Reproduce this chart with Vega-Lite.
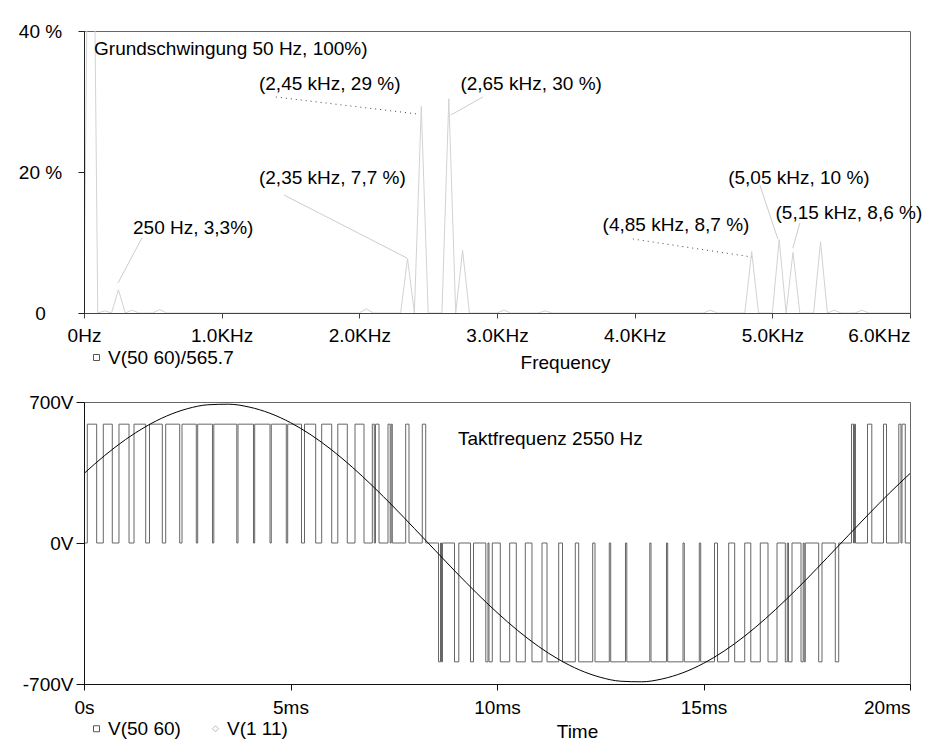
{
  "$schema": "https://vega.github.io/schema/vega-lite/v6.json",
  "background": "white",
  "padding": {"left": 17, "top": 21, "right": 10, "bottom": 10},
  "spacing": 89,
  "bounds": "flush",
  "resolve": {"scale": {"color": "independent", "shape": "independent"}, "legend": {"color": "independent", "shape": "independent"}},
  "config": {
    "font": "Liberation Sans",
    "view": {"stroke": "#666666", "strokeWidth": 1},
    "axis": {"grid": false, "labelFont": "Liberation Sans", "labelFontSize": 19, "labelColor": "black", "titleFont": "Liberation Sans", "titleFontSize": 19, "titleFontWeight": "normal", "titleColor": "black", "domainColor": "#333333", "tickColor": "#333333", "labelOverlap": false},
    "legend": {"labelFont": "Liberation Sans", "labelFontSize": 19, "labelColor": "black"},
    "text": {"font": "Liberation Sans", "fontSize": 19, "color": "black"}
  },
  "datasets": {
    "spec": [
      {"f":0,"p":0},{"f":50,"p":100},{"f":100,"p":0},{"f":150,"p":0.3},{"f":200,"p":0},{"f":250,"p":3.3},{"f":300,"p":0},{"f":350,"p":0.4},{"f":400,"p":0},{"f":450,"p":0},
      {"f":500,"p":0},{"f":550,"p":0.5},{"f":600,"p":0},{"f":650,"p":0},{"f":700,"p":0},{"f":750,"p":0},{"f":800,"p":0},{"f":850,"p":0},{"f":900,"p":0},{"f":950,"p":0},
      {"f":1000,"p":0},{"f":1050,"p":0},{"f":1100,"p":0},{"f":1150,"p":0},{"f":1200,"p":0},{"f":1250,"p":0},{"f":1300,"p":0},{"f":1350,"p":0},{"f":1400,"p":0},{"f":1450,"p":0},
      {"f":1500,"p":0},{"f":1550,"p":0},{"f":1600,"p":0},{"f":1650,"p":0},{"f":1700,"p":0},{"f":1750,"p":0},{"f":1800,"p":0},{"f":1850,"p":0},{"f":1900,"p":0},{"f":1950,"p":0},
      {"f":2000,"p":0},{"f":2050,"p":0.6},{"f":2100,"p":0},{"f":2150,"p":0},{"f":2200,"p":0},{"f":2250,"p":0},{"f":2300,"p":0},{"f":2350,"p":7.7},{"f":2400,"p":0},{"f":2450,"p":29.3},
      {"f":2500,"p":0},{"f":2550,"p":0},{"f":2600,"p":0},{"f":2650,"p":30.4},{"f":2700,"p":0},{"f":2750,"p":8.9},{"f":2800,"p":0},{"f":2850,"p":0},{"f":2900,"p":0},{"f":2950,"p":0},
      {"f":3000,"p":0},{"f":3050,"p":0.4},{"f":3100,"p":0},{"f":3150,"p":0},{"f":3200,"p":0},{"f":3250,"p":0},{"f":3300,"p":0},{"f":3350,"p":0.3},{"f":3400,"p":0},{"f":3450,"p":0},
      {"f":3500,"p":0},{"f":3550,"p":0},{"f":3600,"p":0},{"f":3650,"p":0},{"f":3700,"p":0},{"f":3750,"p":0},{"f":3800,"p":0},{"f":3850,"p":0},{"f":3900,"p":0},{"f":3950,"p":0},
      {"f":4000,"p":0},{"f":4050,"p":0},{"f":4100,"p":0},{"f":4150,"p":0},{"f":4200,"p":0},{"f":4250,"p":0},{"f":4300,"p":0},{"f":4350,"p":0},{"f":4400,"p":0},{"f":4450,"p":0},
      {"f":4500,"p":0},{"f":4550,"p":0.4},{"f":4600,"p":0},{"f":4650,"p":0},{"f":4700,"p":0},{"f":4750,"p":0},{"f":4800,"p":0},{"f":4850,"p":8.7},{"f":4900,"p":0},{"f":4950,"p":0},
      {"f":5000,"p":0},{"f":5050,"p":10.4},{"f":5100,"p":0},{"f":5150,"p":8.6},{"f":5200,"p":0},{"f":5250,"p":0},{"f":5300,"p":0},{"f":5350,"p":10.1},{"f":5400,"p":0},{"f":5450,"p":0.4},
      {"f":5500,"p":0},{"f":5550,"p":0},{"f":5600,"p":0},{"f":5650,"p":0.4},{"f":5700,"p":0},{"f":5750,"p":0},{"f":5800,"p":0},{"f":5850,"p":0},{"f":5900,"p":0},{"f":5950,"p":0},
      {"f":6000,"p":0}
    ],
    "leadSolid": [
      {"f1":421,"p1":10.64,"f2":247,"p2":4.26},
      {"f1":1452,"p1":16.74,"f2":2346,"p2":7.8},
      {"f1":2665,"p1":28.09,"f2":2898,"p2":30.64},
      {"f1":4909,"p1":18.16,"f2":5040,"p2":10.5},
      {"f1":5200,"p1":12.77,"f2":5149,"p2":9.2}
    ],
    "leadDotted": [
      {"f1":1394,"p1":30.64,"f2":2433,"p2":28.2},
      {"f1":3987,"p1":10.5,"f2":4851,"p2":7.94}
    ],
    "ann": [
      {"f":73,"p":36.6,"label":"Grundschwingung 50 Hz, 100%)"},
      {"f":1271,"p":31.7,"label":"(2,45 kHz, 29 %)"},
      {"f":2734,"p":31.7,"label":"(2,65 kHz, 30 %)"},
      {"f":1271,"p":18.3,"label":"(2,35 kHz, 7,7 %)"},
      {"f":356,"p":11.16,"label":"250 Hz, 3,3%)"},
      {"f":3767,"p":11.63,"label":"(4,85 kHz, 8,7 %)"},
      {"f":4679,"p":18.25,"label":"(5,05 kHz, 10 %)"},
      {"f":5023,"p":13.29,"label":"(5,15 kHz, 8,6 %)"}
    ],
    "pwm": [
      {"t":0,"v":0},{"t":0.080,"v":590},{"t":0.307,"v":0},{"t":0.467,"v":590},{"t":0.685,"v":0},{"t":0.847,"v":590},{"t":1.090,"v":0},{"t":1.211,"v":590},
      {"t":1.494,"v":0},{"t":1.586,"v":590},{"t":1.896,"v":0},{"t":1.978,"v":590},{"t":2.317,"v":0},{"t":2.373,"v":590},{"t":2.719,"v":0},{"t":2.753,"v":590},
      {"t":3.111,"v":0},{"t":3.143,"v":590},{"t":3.700,"v":0},{"t":3.729,"v":590},{"t":4.104,"v":0},{"t":4.133,"v":590},{"t":4.504,"v":0},{"t":4.535,"v":590},
      {"t":4.898,"v":0},{"t":4.932,"v":590},{"t":5.266,"v":0},{"t":5.339,"v":590},{"t":5.610,"v":0},{"t":5.755,"v":590},{"t":5.998,"v":0},{"t":6.145,"v":590},
      {"t":6.375,"v":0},{"t":6.562,"v":590},{"t":6.780,"v":0},{"t":6.981,"v":590},{"t":7.029,"v":0},{"t":7.058,"v":590},{"t":7.143,"v":0},{"t":7.361,"v":590},
      {"t":7.414,"v":0},{"t":7.438,"v":590},{"t":7.465,"v":0},{"t":7.789,"v":590},{"t":7.869,"v":0},{"t":8.191,"v":590},{"t":8.274,"v":0},
      {"t":8.584,"v":-590},{"t":8.632,"v":0},{"t":8.656,"v":-590},{"t":8.680,"v":0},{"t":8.971,"v":-590},{"t":9.075,"v":0},{"t":9.358,"v":-590},{"t":9.431,"v":0},
      {"t":9.729,"v":-590},{"t":9.782,"v":0},{"t":9.806,"v":-590},{"t":9.886,"v":0},
      {"t":10.080,"v":-590},{"t":10.307,"v":0},{"t":10.467,"v":-590},{"t":10.685,"v":0},{"t":10.847,"v":-590},{"t":11.090,"v":0},{"t":11.211,"v":-590},
      {"t":11.494,"v":0},{"t":11.586,"v":-590},{"t":11.896,"v":0},{"t":11.978,"v":-590},{"t":12.317,"v":0},{"t":12.373,"v":-590},{"t":12.719,"v":0},{"t":12.753,"v":-590},
      {"t":13.111,"v":0},{"t":13.143,"v":-590},{"t":13.700,"v":0},{"t":13.729,"v":-590},{"t":14.104,"v":0},{"t":14.133,"v":-590},{"t":14.504,"v":0},{"t":14.535,"v":-590},
      {"t":14.898,"v":0},{"t":14.932,"v":-590},{"t":15.266,"v":0},{"t":15.339,"v":-590},{"t":15.610,"v":0},{"t":15.755,"v":-590},{"t":15.998,"v":0},{"t":16.145,"v":-590},
      {"t":16.375,"v":0},{"t":16.562,"v":-590},{"t":16.780,"v":0},{"t":16.981,"v":-590},{"t":17.029,"v":0},{"t":17.058,"v":-590},{"t":17.143,"v":0},{"t":17.361,"v":-590},
      {"t":17.414,"v":0},{"t":17.438,"v":-590},{"t":17.465,"v":0},{"t":17.789,"v":-590},{"t":17.869,"v":0},{"t":18.191,"v":-590},{"t":18.274,"v":0},
      {"t":18.584,"v":590},{"t":18.632,"v":0},{"t":18.656,"v":590},{"t":18.680,"v":0},{"t":18.971,"v":590},{"t":19.075,"v":0},{"t":19.358,"v":590},{"t":19.431,"v":0},
      {"t":19.729,"v":590},{"t":19.782,"v":0},{"t":19.806,"v":590},{"t":19.886,"v":0},{"t":20,"v":0}
    ],
    "sine": [
      {"t":0,"v":345},{"t":0.5,"v":434.2},{"t":1,"v":512.8},{"t":1.5,"v":578.7},{"t":2,"v":630.3},{"t":2.5,"v":666.5},{"t":3,"v":686.2},{"t":3.5,"v":689.1},
      {"t":4,"v":674.9},{"t":4.5,"v":644.2},{"t":5,"v":597.6},{"t":5.5,"v":536.2},{"t":6,"v":461.7},{"t":6.5,"v":375.8},{"t":7,"v":280.6},{"t":7.5,"v":178.6},
      {"t":8,"v":72.1},{"t":8.5,"v":-36.1},{"t":9,"v":-143.5},{"t":9.5,"v":-247.3},{"t":10,"v":-345},{"t":10.5,"v":-434.2},{"t":11,"v":-512.8},{"t":11.5,"v":-578.7},
      {"t":12,"v":-630.3},{"t":12.5,"v":-666.5},{"t":13,"v":-686.2},{"t":13.5,"v":-689.1},{"t":14,"v":-674.9},{"t":14.5,"v":-644.2},{"t":15,"v":-597.6},{"t":15.5,"v":-536.2},
      {"t":16,"v":-461.7},{"t":16.5,"v":-375.8},{"t":17,"v":-280.6},{"t":17.5,"v":-178.6},{"t":18,"v":-72.1},{"t":18.5,"v":36.1},{"t":19,"v":143.5},{"t":19.5,"v":247.3},
      {"t":20,"v":345}
    ]
  },
  "vconcat": [
    {
      "width": 826,
      "height": 282,
      "layer": [
        {
          "data": {"name": "spec"},
          "mark": {"type": "line", "color": "#d2d2d2", "strokeWidth": 1, "clip": true},
          "encoding": {
            "x": {"field": "f", "type": "quantitative", "scale": {"domain": [0, 6000], "nice": false},
              "axis": {"values": [0, 1000, 2000, 3000, 4000, 5000, 6000], "labelExpr": "datum.value == 0 ? '0Hz' : format(datum.value / 1000, '.1f') + 'KHz'", "labelAlign": {"condition": {"test": "datum.value == 6000", "value": "right"}, "value": "center"}, "tickSize": 5, "labelPadding": 8, "title": "Frequency", "titleX": 481, "titleY": 55, "titleAlign": "center", "titleBaseline": "alphabetic", "domainColor": "#444444", "tickColor": "#444444", "zindex": 1}},
            "y": {"field": "p", "type": "quantitative", "scale": {"domain": [0, 40], "nice": false},
              "axis": {"values": [0, 20, 40], "labelExpr": "datum.value == 0 ? '0' : datum.value + ' %'", "labelAlign": "center", "labelBaseline": "middle", "tickSize": 6, "labelPadding": 38, "title": null, "domainColor": "#222222", "tickColor": "#222222", "zindex": 1}}
          }
        },
        {
          "data": {"name": "leadSolid"},
          "mark": {"type": "rule", "color": "#cccccc", "strokeWidth": 1},
          "encoding": {
            "x": {"field": "f1", "type": "quantitative"},
            "y": {"field": "p1", "type": "quantitative"},
            "x2": {"field": "f2"},
            "y2": {"field": "p2"}
          }
        },
        {
          "data": {"name": "leadDotted"},
          "mark": {"type": "rule", "color": "#444444", "strokeWidth": 1, "strokeDash": [1, 4]},
          "encoding": {
            "x": {"field": "f1", "type": "quantitative"},
            "y": {"field": "p1", "type": "quantitative"},
            "x2": {"field": "f2"},
            "y2": {"field": "p2"}
          }
        },
        {
          "data": {"name": "ann"},
          "mark": {"type": "text", "align": "left", "baseline": "alphabetic", "fontSize": 19, "font": "Liberation Sans", "color": "black"},
          "encoding": {
            "x": {"field": "f", "type": "quantitative"},
            "y": {"field": "p", "type": "quantitative"},
            "text": {"field": "label"}
          }
        },
        {
          "data": {"values": [{"s": "V(50 60)/565.7"}]},
          "mark": {"type": "point", "filled": false, "opacity": 0},
          "encoding": {
            "color": {"field": "s", "type": "nominal", "scale": {"range": ["#555555"]},
              "legend": {"orient": "none", "legendX": 3, "legendY": 317, "direction": "horizontal", "title": null, "symbolSize": 36, "symbolStrokeWidth": 1, "symbolOpacity": 1, "labelOffset": 2, "padding": 0, "columnPadding": 25, "labelFontSize": 19}},
            "shape": {"field": "s", "type": "nominal", "scale": {"range": ["square"]},
              "legend": {"orient": "none", "legendX": 3, "legendY": 317, "direction": "horizontal", "title": null, "symbolSize": 36, "symbolStrokeWidth": 1, "symbolOpacity": 1, "labelOffset": 2, "padding": 0, "columnPadding": 25, "labelFontSize": 19}}
          }
        }
      ]
    },
    {
      "width": 826,
      "height": 282,
      "layer": [
        {
          "data": {"name": "pwm"},
          "mark": {"type": "line", "interpolate": "step-after", "color": "#666666", "strokeWidth": 1},
          "encoding": {
            "x": {"field": "t", "type": "quantitative", "scale": {"domain": [0, 20], "nice": false},
              "axis": {"values": [0, 5, 10, 15, 20], "labelExpr": "datum.value == 0 ? '0s' : datum.value + 'ms'", "labelAlign": {"condition": {"test": "datum.value == 20", "value": "right"}, "value": "center"}, "tickSize": 6, "labelPadding": 8, "title": "Time", "titleX": 493, "titleY": 53, "titleAlign": "center", "titleBaseline": "alphabetic", "domainColor": "#111111", "tickColor": "#111111", "zindex": 1}},
            "y": {"field": "v", "type": "quantitative", "scale": {"domain": [-700, 700], "nice": false},
              "axis": {"values": [-700, 0, 700], "labelExpr": "datum.value + 'V'", "labelBaseline": "middle", "tickSize": 8, "labelPadding": 3, "title": null, "domainColor": "#111111", "tickColor": "#111111", "zindex": 1}}
          }
        },
        {
          "data": {"name": "sine"},
          "mark": {"type": "line", "interpolate": "monotone", "color": "#000000", "strokeWidth": 1},
          "encoding": {
            "x": {"field": "t", "type": "quantitative"},
            "y": {"field": "v", "type": "quantitative"}
          }
        },
        {
          "data": {"values": [{"t": 9.056, "v": 486, "label": "Taktfrequenz 2550 Hz"}]},
          "mark": {"type": "text", "align": "left", "baseline": "alphabetic", "fontSize": 19, "font": "Liberation Sans", "color": "black"},
          "encoding": {
            "x": {"field": "t", "type": "quantitative"},
            "y": {"field": "v", "type": "quantitative"},
            "text": {"field": "label"}
          }
        },
        {
          "data": {"values": [{"s": "V(50 60)"}, {"s": "V(1 11)"}]},
          "mark": {"type": "point", "filled": false, "opacity": 0},
          "encoding": {
            "color": {"field": "s", "type": "nominal", "scale": {"domain": ["V(50 60)", "V(1 11)"], "range": ["#555555", "#bbbbbb"]},
              "legend": {"orient": "none", "legendX": 3, "legendY": 317, "direction": "horizontal", "title": null, "symbolSize": 36, "symbolStrokeWidth": 1, "symbolOpacity": 1, "labelOffset": 2, "padding": 0, "columnPadding": 25, "labelFontSize": 19}},
            "shape": {"field": "s", "type": "nominal", "scale": {"domain": ["V(50 60)", "V(1 11)"], "range": ["square", "diamond"]},
              "legend": {"orient": "none", "legendX": 3, "legendY": 317, "direction": "horizontal", "title": null, "symbolSize": 36, "symbolStrokeWidth": 1, "symbolOpacity": 1, "labelOffset": 2, "padding": 0, "columnPadding": 25, "labelFontSize": 19}}
          }
        }
      ]
    }
  ]
}
